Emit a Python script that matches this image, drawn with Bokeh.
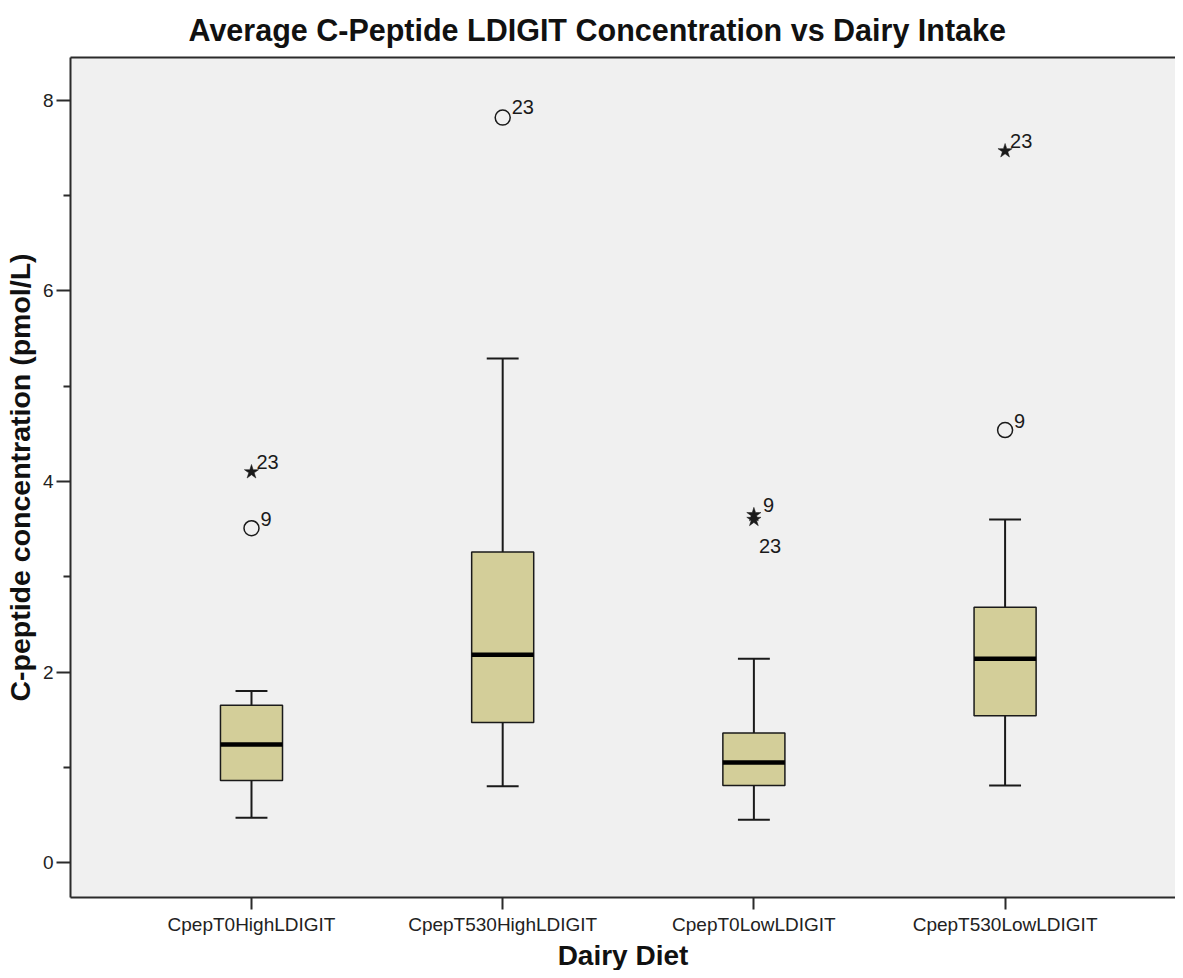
from bokeh.plotting import figure
from bokeh.models import FixedTicker, LinearAxis, Range1d, ColumnDataSource, Title
from bokeh.embed import file_html
from bokeh.resources import INLINE
from bokeh.core.properties import value

# ---------------- data ----------------
categories = ["CpepT0HighLDIGIT", "CpepT530HighLDIGIT", "CpepT0LowLDIGIT", "CpepT530LowLDIGIT"]
whisker_low = [0.47, 0.80, 0.45, 0.81]
q1 = [0.86, 1.47, 0.81, 1.54]
median = [1.24, 2.18, 1.05, 2.14]
q3 = [1.65, 3.26, 1.36, 2.68]
whisker_high = [1.80, 5.29, 2.14, 3.60]

outlier_category = ["CpepT0HighLDIGIT", "CpepT0HighLDIGIT", "CpepT530HighLDIGIT",
                    "CpepT0LowLDIGIT", "CpepT0LowLDIGIT", "CpepT530LowLDIGIT", "CpepT530LowLDIGIT"]
outlier_value = [4.10, 3.51, 7.82, 3.65, 3.60, 7.47, 4.54]
outlier_case = ["23", "9", "23", "9", "23", "23", "9"]
outlier_kind = ["extreme", "mild", "mild", "extreme", "extreme", "extreme", "mild"]

# label placement (style, in screen pixels)
label_dx = [5, 9, 9, 9, 5, 5, 9]
label_dy = [-10, -9, -11, -10, 26, -10, -9]

TITLE = "Average C-Peptide LDIGIT Concentration vs Dairy Intake"
X_LABEL = "Dairy Diet"
Y_LABEL = "C-peptide concentration (pmol/L)"

# ---------------- figure ----------------
pos = {c: i + 1 for i, c in enumerate(categories)}
xs = [pos[c] for c in categories]

FONT = "Liberation Sans"
AX = "#2b2b2b"

p = figure(width=1175, height=970, output_backend="svg", toolbar_location=None,
           title_location=None,
           x_range=Range1d(0.2795, 4.6784), y_range=Range1d(-0.367, 8.451),
           min_border_left=62, min_border_right=0, min_border_top=0, min_border_bottom=0,
           background_fill_color="#f0f0f0", border_fill_color="white",
           outline_line_color=None)

p.xgrid.visible = False
p.ygrid.visible = False

xa = p.below[0]
ya = p.left[0]

# top frame line (closest to frame)
top = LinearAxis(ticker=FixedTicker(ticks=[]), axis_line_width=2, axis_line_color=AX,
                 major_tick_line_color=None, minor_tick_line_color=None,
                 major_label_text_font_size="0px")
p.add_layout(top, "above")

# main title
p.add_layout(Title(text=TITLE, text_font=FONT, text_font_size="30.5px",
                   text_font_style="bold", text_color="#111111",
                   align="left", offset=118, standoff=21), "above")

# axes
xa.ticker = FixedTicker(ticks=xs)
xa.major_label_overrides = {pos[c]: c for c in categories}
ya.ticker = FixedTicker(ticks=[0, 2, 4, 6, 8], minor_ticks=[1, 3, 5, 7])
ya.axis_label = Y_LABEL

for ax in (xa, ya):
    ax.axis_line_width = 2
    ax.axis_line_color = AX
    ax.major_tick_line_width = 2
    ax.major_tick_line_color = AX
    ax.minor_tick_line_width = 2
    ax.minor_tick_line_color = AX
    ax.major_tick_in = 0
    ax.minor_tick_in = 0
    ax.major_label_text_font = FONT
    ax.major_label_text_font_size = "19px"
    ax.major_label_text_color = "#222222"
    ax.axis_label_text_font = FONT
    ax.axis_label_text_font_style = "bold"
    ax.axis_label_text_color = "#111111"

ya.axis_label_text_font_size = "28.5px"
xa.major_tick_out = 12
xa.minor_tick_line_color = None
xa.major_label_standoff = 4
ya.major_tick_out = 14
ya.minor_tick_out = 7
ya.major_label_standoff = 3
ya.axis_label_standoff = 4

# x-axis title placed below the tick labels
p.add_layout(Title(text=X_LABEL, text_font=FONT, text_font_size="28px",
                   text_font_style="bold", text_color="#111111",
                   align="center", offset=7, standoff=0), "below")

# boxes
src = ColumnDataSource(dict(x=xs, lo=whisker_low, q1=q1, med=median, q3=q3, hi=whisker_high))
BOX_W = 0.247
CAP_W = 0.127
src.data["cl"] = [x - CAP_W / 2 for x in xs]
src.data["cr"] = [x + CAP_W / 2 for x in xs]
src.data["bl"] = [x - BOX_W / 2 for x in xs]
src.data["br"] = [x + BOX_W / 2 for x in xs]
p.segment(x0="x", y0="q3", x1="x", y1="hi", source=src, line_color="#1a1a1a", line_width=2)
p.segment(x0="x", y0="q1", x1="x", y1="lo", source=src, line_color="#1a1a1a", line_width=2)
p.segment(x0="cl", y0="hi", x1="cr", y1="hi", source=src, line_color="#1a1a1a", line_width=2)
p.segment(x0="cl", y0="lo", x1="cr", y1="lo", source=src, line_color="#1a1a1a", line_width=2)
p.vbar(x="x", width=BOX_W, bottom="q1", top="q3", source=src,
       fill_color="#d3ce99", line_color="#1a1a1a", line_width=1.5)
p.segment(x0="bl", y0="med", x1="br", y1="med", source=src, line_color="black", line_width=4.5)

# outliers
ox = [pos[c] for c in outlier_category]
mild = ColumnDataSource(dict(
    x=[x for x, k in zip(ox, outlier_kind) if k == "mild"],
    y=[v for v, k in zip(outlier_value, outlier_kind) if k == "mild"]))
ext = ColumnDataSource(dict(
    x=[x for x, k in zip(ox, outlier_kind) if k == "extreme"],
    y=[v for v, k in zip(outlier_value, outlier_kind) if k == "extreme"]))
p.scatter(x="x", y="y", source=mild, marker="circle", size=15, fill_color=None,
          line_color="#1a1a1a", line_width=1.5)
p.scatter(x="x", y="y", source=ext, marker="star", size=15, fill_color="#1a1a1a",
          line_color="#1a1a1a", line_width=0.5)

lab = ColumnDataSource(dict(x=ox, y=outlier_value, t=outlier_case, dx=label_dx, dy=label_dy))
p.text(x="x", y="y", text="t", source=lab, x_offset="dx", y_offset="dy",
       text_font=value(FONT), text_font_size="20px", text_color="#1a1a1a",
       text_baseline="alphabetic", text_align="left")

open("out.html", "w").write(file_html(p, INLINE))
